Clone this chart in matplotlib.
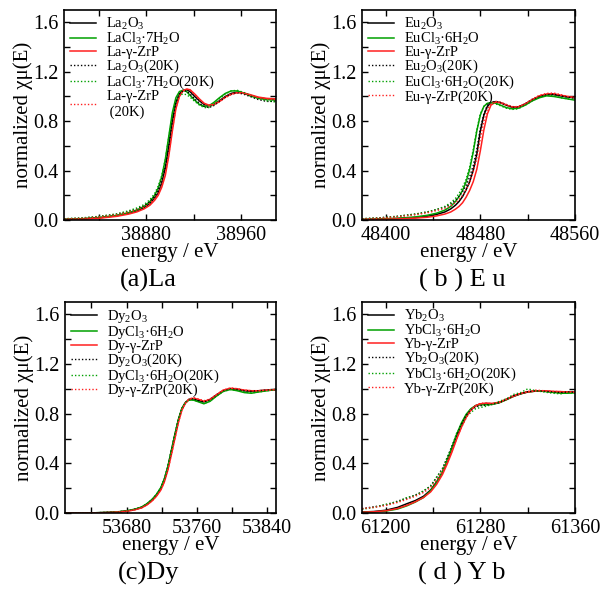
import matplotlib
matplotlib.use("Agg")
import matplotlib.pyplot as plt
from matplotlib.ticker import MultipleLocator

plt.rcParams['font.family'] = ['Liberation Serif', 'DejaVu Serif']
plt.rcParams['mathtext.fontset'] = 'custom'
plt.rcParams['mathtext.rm'] = 'Liberation Serif'
plt.rcParams['mathtext.it'] = 'Liberation Serif:italic'

# ---- (a) La K-edge ----
E_la = [38810, 38825, 38840, 38855, 38865, 38872, 38878, 38883, 38887, 38890, 38893,
        38896, 38899, 38902, 38905, 38908, 38911, 38914, 38917, 38921, 38925, 38929,
        38933, 38937, 38942, 38947, 38952, 38957, 38962, 38968, 38975, 38982, 38990]
la_ox = [0.005, 0.008, 0.018, 0.035, 0.055, 0.075, 0.10, 0.135, 0.18, 0.22, 0.30,
         0.42, 0.60, 0.80, 0.95, 1.02, 1.05, 1.055, 1.04, 1.00, 0.965, 0.935,
         0.925, 0.935, 0.965, 1.00, 1.025, 1.035, 1.03, 1.01, 0.99, 0.98, 0.975]
la_cl = [0.005, 0.01, 0.02, 0.038, 0.06, 0.082, 0.11, 0.15, 0.20, 0.26, 0.35,
         0.49, 0.68, 0.87, 0.99, 1.04, 1.05, 1.04, 1.01, 0.97, 0.935, 0.92,
         0.925, 0.95, 0.99, 1.025, 1.045, 1.045, 1.03, 1.005, 0.985, 0.975, 0.97]
la_zrp = [0.003, 0.006, 0.014, 0.03, 0.048, 0.066, 0.09, 0.12, 0.16, 0.20, 0.265,
          0.36, 0.52, 0.72, 0.90, 1.00, 1.045, 1.06, 1.055, 1.02, 0.98, 0.945,
          0.93, 0.935, 0.96, 0.995, 1.02, 1.03, 1.03, 1.015, 0.995, 0.985, 0.98]
la_ox_20k = [0.01, 0.015, 0.028, 0.048, 0.07, 0.09, 0.115, 0.15, 0.195, 0.245, 0.325,
             0.43, 0.60, 0.80, 0.95, 1.02, 1.045, 1.045, 1.02, 0.98, 0.945, 0.92,
             0.91, 0.925, 0.96, 0.995, 1.02, 1.03, 1.02, 1.00, 0.975, 0.96, 0.96]
la_cl_20k = [0.01, 0.017, 0.03, 0.05, 0.075, 0.098, 0.125, 0.165, 0.215, 0.275, 0.36,
             0.49, 0.67, 0.85, 0.96, 1.01, 1.02, 1.015, 0.995, 0.96, 0.93, 0.91,
             0.91, 0.935, 0.98, 1.02, 1.045, 1.05, 1.035, 1.01, 0.985, 0.965, 0.955]
la_zrp_20k = [0.008, 0.013, 0.025, 0.043, 0.063, 0.082, 0.105, 0.135, 0.175, 0.215, 0.28,
              0.375, 0.535, 0.735, 0.91, 1.005, 1.045, 1.06, 1.05, 1.015, 0.975, 0.94,
              0.925, 0.93, 0.955, 0.99, 1.015, 1.03, 1.025, 1.01, 0.99, 0.98, 0.975]

# ---- (b) Eu K-edge ----
E_eu = [48380, 48395, 48410, 48425, 48435, 48443, 48450, 48455, 48459, 48462, 48465,
        48468, 48471, 48474, 48477, 48480, 48483, 48486, 48489, 48493, 48497, 48502,
        48507, 48512, 48518, 48524, 48530, 48536, 48542, 48548, 48554, 48560]
eu_ox = [0.004, 0.007, 0.012, 0.02, 0.03, 0.045, 0.065, 0.09, 0.12, 0.15, 0.19,
         0.245, 0.31, 0.40, 0.53, 0.72, 0.85, 0.92, 0.95, 0.958, 0.95, 0.93,
         0.912, 0.915, 0.94, 0.975, 1.00, 1.015, 1.015, 1.005, 0.995, 0.99]
eu_cl = [0.004, 0.008, 0.014, 0.025, 0.038, 0.055, 0.08, 0.11, 0.15, 0.19, 0.24,
         0.31, 0.41, 0.55, 0.72, 0.85, 0.92, 0.945, 0.95, 0.945, 0.93, 0.91,
         0.90, 0.905, 0.93, 0.965, 0.99, 1.005, 1.00, 0.99, 0.98, 0.97]
eu_zrp = [0.003, 0.005, 0.009, 0.015, 0.022, 0.033, 0.048, 0.065, 0.088, 0.11, 0.14,
          0.185, 0.24, 0.31, 0.41, 0.56, 0.73, 0.86, 0.93, 0.955, 0.95, 0.93,
          0.915, 0.915, 0.94, 0.975, 1.005, 1.02, 1.022, 1.01, 1.00, 0.99]
eu_ox_20k = [0.01, 0.018, 0.03, 0.048, 0.065, 0.085, 0.105, 0.13, 0.16, 0.19, 0.23,
             0.28, 0.35, 0.44, 0.57, 0.74, 0.86, 0.93, 0.955, 0.96, 0.95, 0.93,
             0.915, 0.915, 0.94, 0.975, 1.00, 1.015, 1.018, 1.005, 0.995, 0.985]
eu_cl_20k = [0.01, 0.018, 0.03, 0.048, 0.065, 0.085, 0.11, 0.14, 0.175, 0.215, 0.265,
             0.33, 0.43, 0.57, 0.73, 0.86, 0.92, 0.945, 0.95, 0.94, 0.925, 0.905,
             0.895, 0.90, 0.93, 0.965, 0.995, 1.01, 1.005, 0.99, 0.98, 0.975]
eu_zrp_20k = [0.008, 0.015, 0.026, 0.042, 0.058, 0.076, 0.095, 0.115, 0.14, 0.165, 0.20,
              0.245, 0.305, 0.39, 0.50, 0.66, 0.80, 0.90, 0.945, 0.96, 0.955, 0.935,
              0.918, 0.918, 0.942, 0.98, 1.01, 1.025, 1.028, 1.015, 1.00, 0.995]

# ---- (c) Dy K-edge ----
E_dy = [53610, 53630, 53645, 53660, 53672, 53682, 53690, 53697, 53703, 53709, 53714,
        53719, 53723, 53727, 53731, 53735, 53739, 53743, 53747, 53751, 53756, 53762,
        53768, 53775, 53782, 53790, 53798, 53806, 53814, 53822, 53830, 53840, 53850]
dy_ox = [0.0, 0.0, 0.002, 0.005, 0.01, 0.018, 0.03, 0.045, 0.07, 0.105, 0.145,
         0.20, 0.27, 0.37, 0.50, 0.63, 0.75, 0.84, 0.89, 0.915, 0.92, 0.905,
         0.895, 0.915, 0.95, 0.985, 1.00, 0.995, 0.985, 0.98, 0.985, 0.99, 0.995]
dy_cl = [0.0, 0.0, 0.002, 0.005, 0.011, 0.02, 0.032, 0.048, 0.074, 0.11, 0.15,
         0.205, 0.275, 0.375, 0.505, 0.635, 0.755, 0.845, 0.89, 0.91, 0.91, 0.895,
         0.88, 0.90, 0.94, 0.98, 0.995, 0.985, 0.97, 0.965, 0.975, 0.985, 0.995]
dy_zrp = [0.0, 0.0, 0.001, 0.004, 0.009, 0.016, 0.027, 0.041, 0.064, 0.097, 0.135,
          0.185, 0.25, 0.345, 0.47, 0.60, 0.73, 0.83, 0.885, 0.915, 0.925, 0.915,
          0.90, 0.915, 0.95, 0.99, 1.005, 1.00, 0.99, 0.985, 0.985, 0.99, 0.995]
dy_ox_20k = [0.0, 0.0, 0.002, 0.005, 0.01, 0.019, 0.031, 0.046, 0.071, 0.106, 0.147,
             0.202, 0.272, 0.372, 0.502, 0.632, 0.752, 0.842, 0.89, 0.915, 0.92, 0.905,
             0.895, 0.912, 0.948, 0.985, 1.00, 0.995, 0.985, 0.982, 0.985, 0.99, 0.995]
dy_cl_20k = [0.0, 0.0, 0.002, 0.005, 0.011, 0.02, 0.032, 0.048, 0.073, 0.108, 0.148,
             0.203, 0.273, 0.373, 0.503, 0.633, 0.753, 0.843, 0.888, 0.908, 0.91, 0.895,
             0.882, 0.902, 0.94, 0.978, 0.995, 0.988, 0.975, 0.968, 0.975, 0.985, 0.995]
dy_zrp_20k = [0.0, 0.0, 0.001, 0.004, 0.009, 0.016, 0.027, 0.041, 0.064, 0.097, 0.135,
              0.185, 0.25, 0.345, 0.47, 0.60, 0.73, 0.83, 0.885, 0.918, 0.93, 0.918,
              0.905, 0.918, 0.953, 0.99, 1.008, 1.002, 0.99, 0.985, 0.985, 0.99, 0.995]

# ---- (d) Yb K-edge ----
E_yb = [61180, 61190, 61200, 61210, 61218, 61225, 61232, 61238, 61243, 61248, 61252,
        61256, 61260, 61264, 61268, 61272, 61276, 61280, 61285, 61290, 61296, 61302,
        61308, 61314, 61320, 61327, 61334, 61341, 61348, 61354, 61360]
yb_ox = [0.008, 0.012, 0.022, 0.045, 0.075, 0.10, 0.135, 0.185, 0.25, 0.33, 0.42,
         0.52, 0.62, 0.71, 0.785, 0.835, 0.865, 0.878, 0.882, 0.88, 0.89, 0.915,
         0.94, 0.96, 0.975, 0.983, 0.982, 0.977, 0.975, 0.975, 0.975]
yb_cl = [0.005, 0.008, 0.015, 0.032, 0.058, 0.088, 0.125, 0.18, 0.245, 0.33, 0.425,
         0.53, 0.635, 0.725, 0.795, 0.84, 0.865, 0.872, 0.872, 0.875, 0.888, 0.912,
         0.94, 0.96, 0.975, 0.982, 0.98, 0.972, 0.965, 0.965, 0.968]
yb_zrp = [0.006, 0.01, 0.018, 0.036, 0.062, 0.09, 0.125, 0.17, 0.23, 0.31, 0.395,
          0.49, 0.595, 0.69, 0.77, 0.83, 0.865, 0.88, 0.885, 0.883, 0.892, 0.915,
          0.94, 0.962, 0.975, 0.983, 0.985, 0.98, 0.978, 0.975, 0.975]
yb_ox_20k = [0.035, 0.05, 0.065, 0.095, 0.12, 0.145, 0.175, 0.22, 0.285, 0.36, 0.445,
             0.54, 0.63, 0.715, 0.785, 0.83, 0.855, 0.865, 0.87, 0.875, 0.89, 0.915,
             0.945, 0.962, 0.978, 0.985, 0.98, 0.975, 0.97, 0.975, 0.972]
yb_cl_20k = [0.03, 0.045, 0.07, 0.09, 0.125, 0.14, 0.18, 0.215, 0.29, 0.35, 0.45,
             0.53, 0.645, 0.70, 0.775, 0.81, 0.84, 0.85, 0.86, 0.875, 0.90, 0.92,
             0.955, 0.97, 1.00, 0.985, 0.975, 0.965, 0.96, 0.97, 0.965]
yb_zrp_20k = [0.035, 0.045, 0.06, 0.085, 0.11, 0.135, 0.165, 0.205, 0.265, 0.335, 0.415,
              0.50, 0.60, 0.69, 0.765, 0.825, 0.86, 0.885, 0.885, 0.88, 0.895, 0.918,
              0.945, 0.965, 0.98, 0.99, 0.985, 0.98, 0.978, 0.975, 0.975]

labels_la = ["La$_2$O$_3$", "LaCl$_3$·7H$_2$O", "La-γ-ZrP",
             "La$_2$O$_3$(20K)", "LaCl$_3$·7H$_2$O(20K)", "La-γ-ZrP\n (20K)"]
labels_eu = ["Eu$_2$O$_3$", "EuCl$_3$·6H$_2$O", "Eu-γ-ZrP",
             "Eu$_2$O$_3$(20K)", "EuCl$_3$·6H$_2$O(20K)", "Eu-γ-ZrP(20K)"]
labels_dy = ["Dy$_2$O$_3$", "DyCl$_3$·6H$_2$O", "Dy-γ-ZrP",
             "Dy$_2$O$_3$(20K)", "DyCl$_3$·6H$_2$O(20K)", "Dy-γ-ZrP(20K)"]
labels_yb = ["Yb$_2$O$_3$", "YbCl$_3$·6H$_2$O", "Yb-γ-ZrP",
             "Yb$_2$O$_3$(20K)", "YbCl$_3$·6H$_2$O(20K)", "Yb-γ-ZrP(20K)"]

panels = [
    (E_la, [la_ox, la_cl, la_zrp, la_ox_20k, la_cl_20k, la_zrp_20k], labels_la,
     (38810, 38990), "(a)La"),
    (E_eu, [eu_ox, eu_cl, eu_zrp, eu_ox_20k, eu_cl_20k, eu_zrp_20k], labels_eu,
     (48380, 48560), "( b ) E u"),
    (E_dy, [dy_ox, dy_cl, dy_zrp, dy_ox_20k, dy_cl_20k, dy_zrp_20k], labels_dy,
     (53610, 53850), "(c)Dy"),
    (E_yb, [yb_ox, yb_cl, yb_zrp, yb_ox_20k, yb_cl_20k, yb_zrp_20k], labels_yb,
     (61180, 61360), "( d ) Y b"),
]

colores = ['black', '#00a000', '#ff2020']

fig = plt.figure(figsize=(6.09, 5.95), dpi=100)

# posiciones de los ejes en pixeles (izq, arriba, der, abajo)
cajas = [(64, 10, 276, 220), (362, 10, 575, 220),
         (65, 302, 276, 513), (362, 302, 575, 513)]

for (E, series, labels, xlim, titulo), (x0, y0, x1, y1) in zip(panels, cajas):
    ax = fig.add_axes([x0/609, 1 - y1/595, (x1 - x0)/609, (y1 - y0)/595])
    for i, (y, lab) in enumerate(zip(series, labels)):
        c = colores[i % 3]
        if i < 3:
            ax.plot(E, y, color=c, lw=1.1, label=lab)
        else:
            ax.plot(E, y, color=c, lw=1.0, ls=(0, (1, 1.5)), label=lab)
    ax.set_xlim(*xlim)
    ax.set_ylim(0, 1.7)
    ax.xaxis.set_major_locator(MultipleLocator(80))
    ax.xaxis.set_minor_locator(MultipleLocator(40))
    ax.yaxis.set_major_locator(MultipleLocator(0.4))
    ax.yaxis.set_minor_locator(MultipleLocator(0.2))
    ax.yaxis.set_major_formatter(plt.FuncFormatter(lambda v, p: f"{v:.1f}"))
    ax.tick_params(which='both', direction='in', top=True, right=True,
                   length=4, width=1, labelsize=14.5, pad=4)
    for s in ax.spines.values():
        s.set_linewidth(1.2)
    ax.set_xlabel("energy / eV", fontsize=15, labelpad=-1)
    ax.set_ylabel("normalized χμ(E)", fontsize=15, labelpad=0)
    ax.legend(loc='upper left', bbox_to_anchor=(0, 1), frameon=False,
              fontsize=10.5, borderaxespad=0.0, borderpad=0.4,
              labelspacing=-0.08, handlelength=1.8, handletextpad=0.7)
    xc = (x0 + 84) if x0 < 300 else (x0 + 100)
    fig.text(xc/609, 1 - (y1 + 60)/595, titulo, fontsize=19,
             ha='center', va='center')

fig.savefig("out.png", dpi=100)
